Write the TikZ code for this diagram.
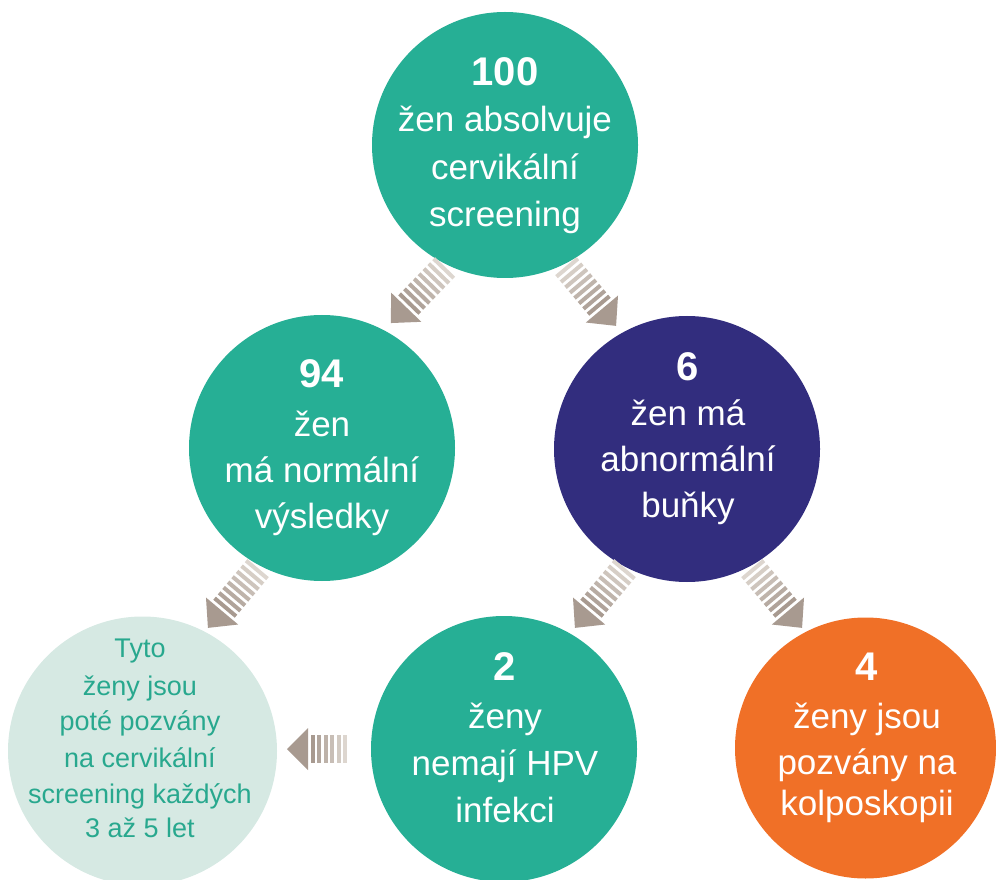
\documentclass[tikz,border=0pt]{standalone}
\usepackage{fontspec}
\setmainfont{Liberation Sans}
\definecolor{tealc}{HTML}{26AF95}
\definecolor{navyc}{HTML}{322D7E}
\definecolor{orangec}{HTML}{F07027}
\definecolor{lightc}{HTML}{D6E9E3}
\definecolor{tealtext}{HTML}{28A88E}
\definecolor{arrowdark}{HTML}{A89A90}
\definecolor{arrowlight}{HTML}{DDD6CF}
\tikzset{
  circ/.style={circle, inner sep=0pt, draw=none, minimum size=#1*1.5pt},
  num/.style={anchor=base, text=white, inner sep=0pt, font=\fontsize{30}{30}\selectfont\bfseries},
  body/.style={anchor=base, text=white, inner sep=0pt, font=\fontsize{26.25}{30}\selectfont},
  small/.style={anchor=base, text=tealtext, inner sep=0pt, font=\fontsize{20.25}{24}\selectfont},
  pics/longarrow/.style={code={
    \foreach \i in {0,...,7}{
      \pgfmathtruncatemacro\pc{100*\i/7}
      \fill[arrowdark!\pc!arrowlight] (-39+7*\i,-14) rectangle (-35+7*\i,14);
    }
    \fill[arrowdark] (39,0) -- (17,21) -- (17,-21) -- cycle;
  }},
  pics/shortarrow/.style={code={
    \foreach \i in {0,...,5}{
      \pgfmathtruncatemacro\pc{100*\i/5}
      \fill[arrowdark!\pc!arrowlight] (-30+6.5*\i,-14) rectangle (-26+6.5*\i,14);
    }
    \fill[arrowdark] (30,0) -- (9,21) -- (9,-21) -- cycle;
  }},
}
\begin{document}
\begin{tikzpicture}[x=0.75pt,y=-0.75pt]
\useasboundingbox (0,0) rectangle (996,880);
\begin{scope}
\clip (0,0) rectangle (996,880);
% circles
\node[circ=133, fill=tealc] (c100) at (505,145) {};
\node[circ=133, fill=tealc] (c94) at (322,448) {};
\node[circ=133, fill=navyc] (c6) at (687,449) {};
\node[circ=134.5, fill=lightc] (ctyto) at (142.5,751) {};
\node[circ=133, fill=tealc] (c2) at (504,749) {};
\node[circ=130.5, fill=orangec] (c4) at (865.5,748) {};
\end{scope}
% arrows
\pic (a1) [rotate=226] at (418,295) {longarrow};
\pic (a2) [rotate=310] at (591,296) {longarrow};
\pic (a3) [rotate=230] at (233,598) {longarrow};
\pic (a4) [rotate=230] at (600,598) {longarrow};
\pic (a5) [rotate=310] at (777,598) {longarrow};
\pic (a6) [rotate=180] at (317,749) {shortarrow};
% texts: top
\node[num] (t100a) at (505,86) {100};
\node[body] (t100b) at (505,132) {žen absolvuje};
\node[body] (t100c) at (505,179.5) {cervikální};
\node[body] (t100d) at (505,227) {screening};
% left middle
\node[num] (t94a) at (322,388) {94};
\node[body] (t94b) at (322,436) {žen};
\node[body] (t94c) at (322,482) {má normální};
\node[body] (t94d) at (322,528) {výsledky};
% right middle
\node[num] (t6a) at (688,381) {6};
\node[body] (t6b) at (688,426) {žen má};
\node[body] (t6c) at (688,471) {abnormální};
\node[body] (t6d) at (688,517) {buňky};
% bottom middle
\node[num] (t2a) at (505,680) {2};
\node[body] (t2b) at (505,728) {ženy};
\node[body] (t2c) at (505,775) {nemají HPV};
\node[body] (t2d) at (505,822) {infekci};
% orange
\node[num] (t4a) at (867,680) {4};
\node[body] (t4b) at (867,728) {ženy jsou};
\node[body] (t4c) at (867,774) {pozvány na};
\node[body] (t4d) at (867,815) {kolposkopii};
% light
\node[small] (tta) at (140,657) {Tyto};
\node[small] (ttb) at (140,695) {ženy jsou};
\node[small] (ttc) at (140,730) {poté pozvány};
\node[small] (ttd) at (140,767) {na cervikální};
\node[small] (tte) at (140,803) {screening každých};
\node[small] (ttf) at (140,837) {3 až 5 let};
\end{tikzpicture}
\end{document}
